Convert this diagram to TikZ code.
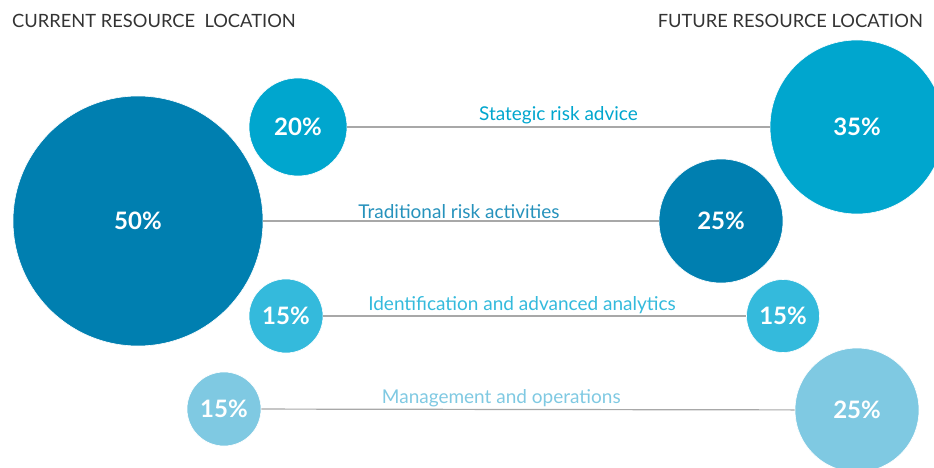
\documentclass[tikz,border=0pt]{standalone}
\usepackage{fontspec}
\setmainfont{Lato}
\usepackage{tikz}

\definecolor{darkblue}{RGB}{0,127,176}
\definecolor{midblue}{RGB}{0,166,206}
\definecolor{lightblue}{RGB}{52,186,220}
\definecolor{paleblue}{RGB}{127,201,226}
\definecolor{linegray}{RGB}{168,168,168}

\tikzset{
  bubble/.style={circle, draw=white, line width=0.6pt, fill=#1, text=white,
    inner sep=0pt, font=\fontsize{24}{28}\selectfont\bfseries},
  link/.style={draw=linegray, line width=1.2pt},
  linklabel/.style={above, inner sep=2pt, font=\fontsize{19}{22}\selectfont},
  header/.style={font=\fontsize{18.3}{22}\selectfont, text=black!80}
}

\begin{document}
\begin{tikzpicture}[x=1pt,y=-1pt]
\clip (0,0) rectangle (934,468);

\node[header, anchor=west, inner sep=0pt] (hcur) at (12,21) {CURRENT RESOURCE\ \ LOCATION};
\node[header, anchor=east, inner sep=0pt] (hfut) at (923,21) {FUTURE RESOURCE LOCATION};

% current
\node[bubble=darkblue, minimum size=250pt] (cur50) at (138,221) {50\%};
\node[bubble=midblue, minimum size=98pt] (cur20) at (298,127) {20\%};
\node[bubble=lightblue, minimum size=74pt] (cur15a) at (286,316) {15\%};
\node[bubble=paleblue, minimum size=74pt] (cur15b) at (224,409) {15\%};

% future
\node[bubble=midblue, minimum size=174pt] (fut35) at (857,127) {35\%};
\node[bubble=darkblue, minimum size=124pt] (fut25a) at (721,221) {25\%};
\node[bubble=lightblue, minimum size=73pt] (fut15) at (783,316) {15\%};
\node[bubble=paleblue, minimum size=124pt] (fut25b) at (857,410) {25\%};

\draw[link] (cur20) -- node[linklabel, text=midblue] (lstrat) {Stategic risk advice} (fut35);
\draw[link] (cur50) -- node[linklabel, text=darkblue!85, pos=0.495] (ltrad) {Traditional risk activities} (fut25a);
\draw[link] (cur15a) -- node[linklabel, text=lightblue, pos=0.47] (lident) {Identification and advanced analytics} (fut15);
\draw[link] (cur15b) -- node[linklabel, text=paleblue, pos=0.45] (lmgmt) {Management and operations} (fut25b);
\end{tikzpicture}
\end{document}
